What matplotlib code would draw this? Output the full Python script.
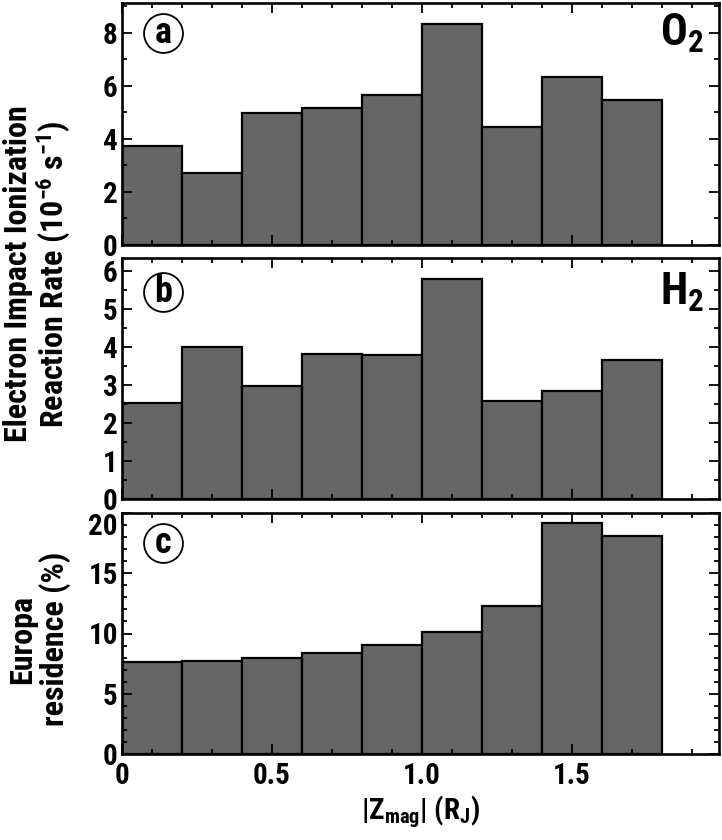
import matplotlib
matplotlib.use("Agg")
import matplotlib.pyplot as plt
from matplotlib.ticker import MultipleLocator, FixedLocator

# bin left edges of |Zmag| (R_J), width 0.2
bin_left = [0.0, 0.2, 0.4, 0.6, 0.8, 1.0, 1.2, 1.4, 1.6]
bin_width = 0.2

# (a) O2 electron impact ionization rate (1e-6 s^-1)
rate_o2 = [3.72, 2.72, 4.98, 5.16, 5.67, 8.33, 4.45, 6.33, 5.46]
# (b) H2 electron impact ionization rate (1e-6 s^-1)
rate_h2 = [2.53, 4.0, 2.97, 3.8, 3.78, 5.79, 2.58, 2.83, 3.65]
# (c) Europa residence (%)
residence = [7.6, 7.75, 7.95, 8.35, 9.05, 10.15, 12.25, 19.2, 18.1]

# narrow font, falls back if not there
plt.rcParams["font.family"] = ["Roboto Condensed", "Liberation Sans", "DejaVu Sans"]
plt.rcParams["font.weight"] = "bold"
plt.rcParams["mathtext.default"] = "regular"

fig = plt.figure(figsize=(7.22, 8.4), dpi=100)
left, width = 122 / 722, 597 / 722
ax_a = fig.add_axes([left, 1 - 245 / 840, width, 242 / 840])
ax_b = fig.add_axes([left, 1 - 499 / 840, width, 241 / 840])
ax_c = fig.add_axes([left, 1 - 754 / 840, width, 241 / 840])

bar_col = "#666666"
panels = [
    (ax_a, rate_o2, 9.12, 2, 1, "a", 0.876, "O$_2$"),
    (ax_b, rate_h2, 6.33, 1, 0.5, "b", 0.859, "H$_2$"),
    (ax_c, residence, 20.0, 5, 1, "c", 0.875, None),
]

for ax, vals, ytop, maj, mnr, letter, ly, species in panels:
    ax.bar(bin_left, vals, width=bin_width, align="edge", color=bar_col,
           edgecolor="black", linewidth=1.6)
    ax.set_xlim(0, 1.99)
    ax.set_ylim(0, ytop)
    ax.xaxis.set_major_locator(FixedLocator([0, 0.5, 1.0, 1.5]))
    ax.xaxis.set_minor_locator(MultipleLocator(0.1))
    ax.yaxis.set_major_locator(MultipleLocator(maj))
    ax.yaxis.set_minor_locator(MultipleLocator(mnr))
    ax.tick_params(which="both", direction="in", top=True, right=True,
                   width=1.3, labelsize=21)
    ax.tick_params(which="major", length=7)
    ax.tick_params(which="minor", length=3.5)
    ax.tick_params(axis="y", pad=3)
    ax.tick_params(axis="x", pad=6)
    for s in ax.spines.values():
        s.set_linewidth(1.9)
    # circled panel letter
    ax.plot([0.069], [ly], marker="o", ms=28, mfc="white", mec="black", mew=1.3,
            transform=ax.transAxes, clip_on=False, zorder=5)
    ax.text(0.069, ly, letter, transform=ax.transAxes, ha="center",
            va="center", fontsize=26, fontweight="bold", zorder=6)
    if species:
        ax.text(0.975, ly, species, transform=ax.transAxes, ha="right",
                va="center", fontsize=32, fontweight="bold")

ax_a.tick_params(axis="x", labelbottom=False)
ax_b.tick_params(axis="x", labelbottom=False)
ax_c.set_xticklabels(["0", "0.5", "1.0", "1.5"])
ax_c.set_yticks([0, 5, 10, 15, 20])
ax_c.yaxis.get_major_ticks()[-1].label1.set_verticalalignment("top")

ax_c.set_xlabel("|Z$_{mag}$| (R$_J$)", fontsize=21, fontweight="bold", labelpad=2)

fig.text(38 / 722, 1 - 274 / 840,
         "Electron Impact Ionization\nReaction Rate (10$^{-6}$ s$^{-1}$)",
         rotation=90, ha="center", va="center", multialignment="center",
         fontsize=23, fontweight="bold", linespacing=1.05)
fig.text(39 / 722, 1 - 639 / 840, "Europa\nresidence (%)",
         rotation=90, ha="center", va="center", multialignment="center",
         fontsize=23, fontweight="bold", linespacing=1.05)

fig.savefig("out.png", dpi=100)
